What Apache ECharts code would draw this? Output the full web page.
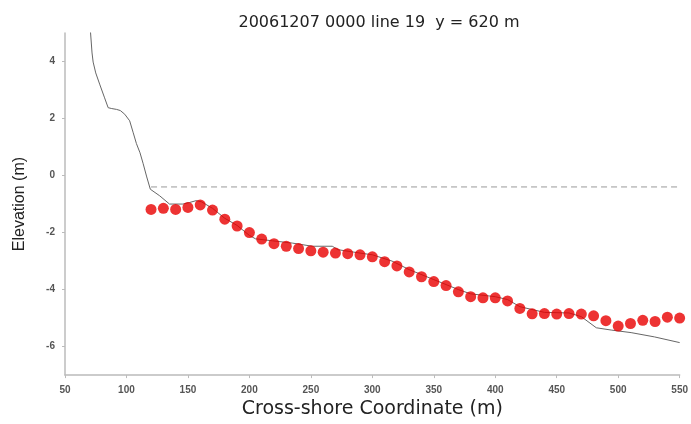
<!DOCTYPE html>
<html>
<head>
<meta charset="utf-8">
<script src="https://cdn.jsdelivr.net/npm/echarts@6/dist/echarts.min.js"></script>
<style>html,body{margin:0;padding:0;background:#fff}#c{width:691px;height:424px}</style>
</head>
<body>
<div id="c"></div>
<script>
// Survey profile (gray line)
var profileX = [70.0, 70.8, 72.0, 72.9, 75.0, 78.4, 82.0, 85.1, 88.0, 91.9, 95.0, 98.6, 102.6, 105.5, 108.1, 111.0, 113.5, 116.5, 119.4, 127, 135, 145.9, 151, 156.7, 161, 170, 180, 190, 200, 205, 218.8, 235, 251.2, 267.4, 272, 290, 300, 316, 330, 350, 370, 380, 400, 410, 420, 440, 460, 470, 482.2, 494.3, 510.5, 529.5, 550];
var profileY = [5.4, 5.0, 4.3, 3.98, 3.6, 3.18, 2.75, 2.38, 2.35, 2.32, 2.28, 2.15, 1.92, 1.5, 1.12, 0.8, 0.43, -0.05, -0.48, -0.71, -1.0, -1.0, -0.95, -0.88, -0.92, -1.15, -1.5, -1.75, -2.1, -2.22, -2.29, -2.37, -2.48, -2.48, -2.6, -2.72, -2.78, -3.0, -3.3, -3.65, -4.0, -4.15, -4.25, -4.35, -4.6, -4.8, -4.82, -4.95, -5.34, -5.42, -5.51, -5.66, -5.86];
// Red dots
var dotX = [120,130,140,150,160,170,180,190,200,210,220,230,240,250,260,270,280,290,300,310,320,330,340,350,360,370,380,390,400,410,420,430,440,450,460,470,480,490,500,510,520,530,540,550];
var dotY = [-1.19,-1.15,-1.19,-1.12,-1.03,-1.21,-1.53,-1.77,-2.00,-2.23,-2.39,-2.48,-2.56,-2.64,-2.69,-2.72,-2.74,-2.78,-2.85,-3.02,-3.17,-3.38,-3.55,-3.72,-3.86,-4.08,-4.25,-4.29,-4.29,-4.40,-4.66,-4.85,-4.84,-4.86,-4.84,-4.86,-4.92,-5.09,-5.28,-5.19,-5.08,-5.12,-4.97,-5.00];
// Dashed water level
var levelX = [120, 550];
var levelY = [-0.4, -0.4];
var yTicks = [-6, -4, -2, 0, 2, 4];

function zip(a, b) { return a.map(function (v, i) { return [v, b[i]]; }); }

var chart = echarts.init(document.getElementById('c'), null, {renderer: 'canvas'});
var font = 'Liberation Sans, Arial, Helvetica, sans-serif';
var wide = 'DejaVu Sans, Liberation Sans, sans-serif';
chart.setOption({
  animation: false,
  backgroundColor: '#fff',
  title: {
    text: '20061207 0000 line 19  y = 620 m',
    left: 374, top: 10, textAlign: 'center',
    textStyle: {fontFamily: wide, fontSize: 16, fontWeight: 'normal', color: '#222'}
  },
  grid: {left: 65, right: 8, top: 33, bottom: 42, containLabel: false},
  xAxis: {
    type: 'value', min: 50, max: 550, interval: 50,
    name: 'Cross-shore Coordinate (m)', nameLocation: 'middle', nameGap: 19,
    nameTextStyle: {fontFamily: wide, fontSize: 19, color: '#222'},
    axisLine: {show: true, onZero: false, lineStyle: {color: '#bbb', width: 1.5}},
    axisTick: {show: true, length: 3, lineStyle: {color: '#bbb'}},
    axisLabel: {fontFamily: font, fontSize: 10, fontWeight: 'bold', color: '#555', margin: 10},
    splitLine: {show: false}
  },
  yAxis: {
    type: 'value', min: -7, max: 5,
    name: 'Elevation (m)', nameLocation: 'middle', nameGap: 37, nameRotate: 90,
    nameTextStyle: {fontFamily: font, fontSize: 16, color: '#222'},
    axisLine: {show: true, onZero: false, lineStyle: {color: '#bbb', width: 1.5}},
    axisTick: {show: true, length: 3, customValues: yTicks, lineStyle: {color: '#bbb'}},
    axisLabel: {customValues: yTicks, fontFamily: font, fontSize: 10, fontWeight: 'bold', color: '#555', margin: 10},
    splitLine: {show: false}
  },
  series: [
    {
      type: 'line', data: zip(profileX, profileY), showSymbol: false, symbol: 'none',
      lineStyle: {color: '#666', width: 1}, clip: true, z: 2
    },
    {
      type: 'line', data: zip(levelX, levelY), showSymbol: false, symbol: 'none',
      lineStyle: {color: '#999', width: 1, type: [6, 4]}, z: 2
    },
    {
      type: 'scatter', data: zip(dotX, dotY), symbol: 'circle', symbolSize: 11,
      itemStyle: {color: '#e80000'}, z: 3
    }
  ]
});
</script>
</body>
</html>
